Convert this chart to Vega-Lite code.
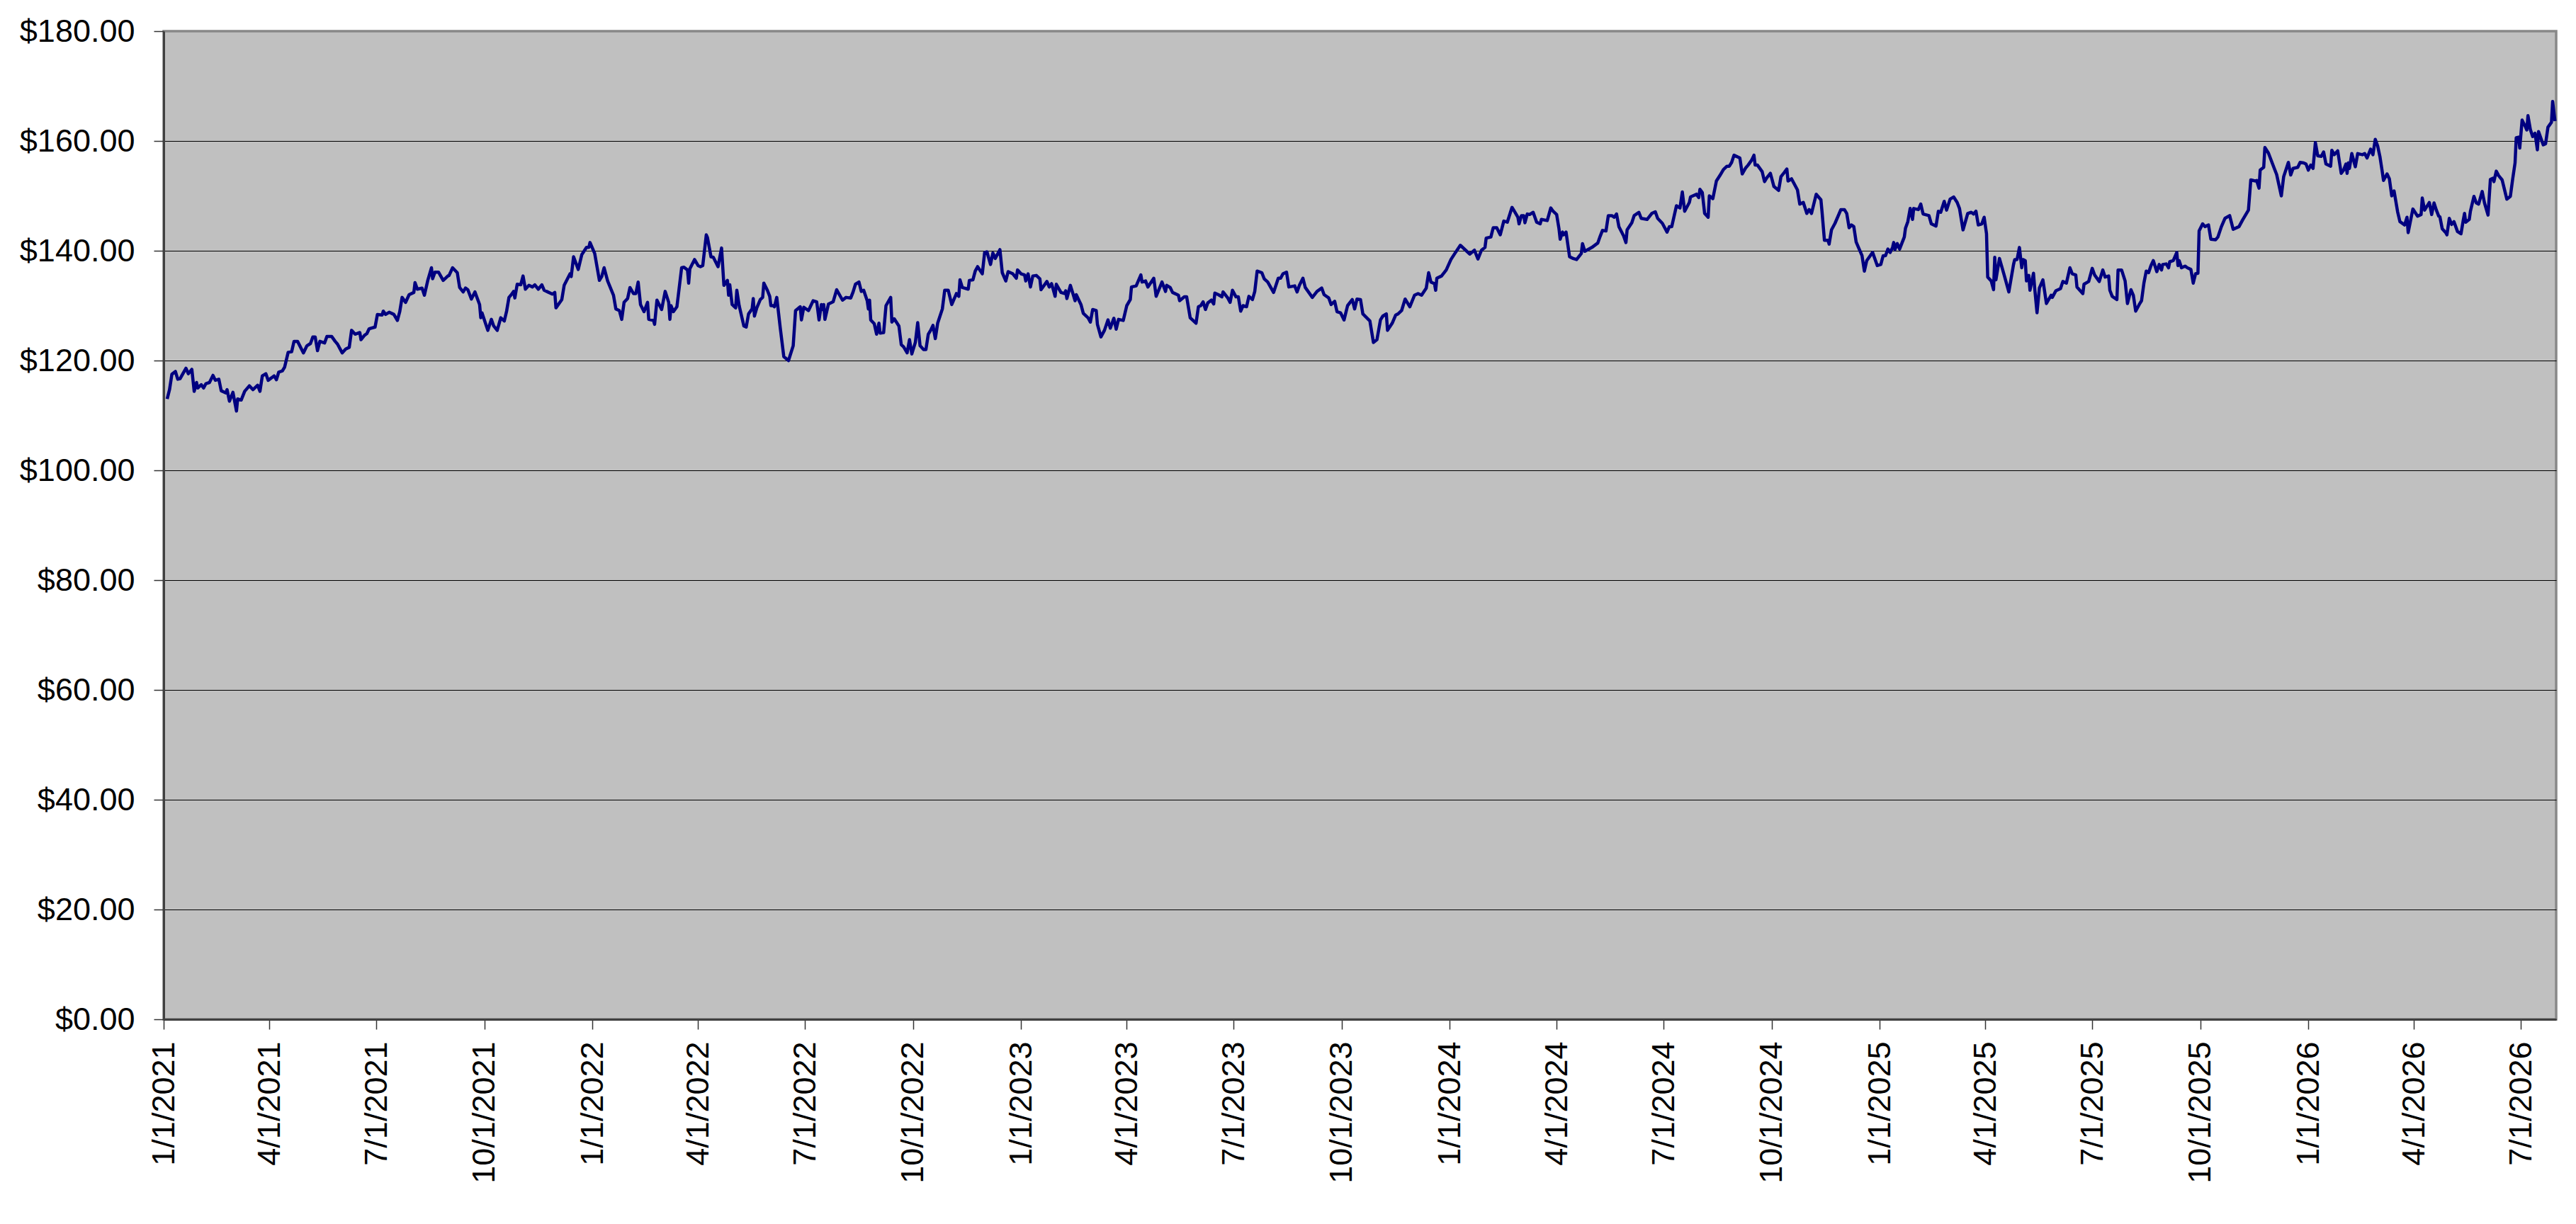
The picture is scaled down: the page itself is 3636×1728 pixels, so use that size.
{
  "$schema": "https://vega.github.io/schema/vega-lite/v6.json",
  "width": 3377,
  "height": 1395,
  "autosize": {"type": "none"},
  "padding": {"left": 231, "top": 44, "right": 28, "bottom": 289},
  "background": "#FFFFFF",
  "config": {
    "view": {"fill": "#C0C0C0", "stroke": "#888888", "strokeWidth": 3.5},
    "axis": {"labelFont": "Liberation Sans", "labelFontSize": 45, "labelColor": "#000000", "labelLimit": 0, "title": null, "domain": true, "domainColor": "#404040", "domainWidth": 3, "tickSize": 14, "tickColor": "#333333", "tickWidth": 1.5}
  },
  "data": {"values": [
    {"date":"2021-01-04","price":113.0},{"date":"2021-01-06","price":114.7},{"date":"2021-01-08","price":117.5},{"date":"2021-01-11","price":118.0},{"date":"2021-01-13","price":116.6},{"date":"2021-01-15","price":116.7},{"date":"2021-01-20","price":118.6},{"date":"2021-01-22","price":117.6},{"date":"2021-01-25","price":118.4},{"date":"2021-01-27","price":114.4},{"date":"2021-01-29","price":116.0},{"date":"2021-01-30","price":115.0},
    {"date":"2021-02-02","price":115.6},{"date":"2021-02-04","price":115.0},{"date":"2021-02-06","price":115.8},{"date":"2021-02-09","price":116.0},{"date":"2021-02-12","price":117.3},{"date":"2021-02-14","price":116.4},{"date":"2021-02-17","price":116.6},{"date":"2021-02-19","price":114.5},{"date":"2021-02-23","price":114.1},{"date":"2021-02-24","price":114.7},{"date":"2021-02-26","price":112.6},
    {"date":"2021-03-01","price":114.2},{"date":"2021-03-04","price":110.8},{"date":"2021-03-05","price":113.0},{"date":"2021-03-08","price":112.8},{"date":"2021-03-11","price":114.4},{"date":"2021-03-15","price":115.4},{"date":"2021-03-18","price":114.7},{"date":"2021-03-22","price":115.5},{"date":"2021-03-24","price":114.4},{"date":"2021-03-26","price":117.2},{"date":"2021-03-29","price":117.6},{"date":"2021-03-31","price":116.4},
    {"date":"2021-04-05","price":117.2},{"date":"2021-04-07","price":116.5},{"date":"2021-04-09","price":117.9},{"date":"2021-04-12","price":118.1},{"date":"2021-04-14","price":118.8},{"date":"2021-04-17","price":121.5},{"date":"2021-04-20","price":121.6},{"date":"2021-04-22","price":123.5},{"date":"2021-04-25","price":123.5},{"date":"2021-04-30","price":121.4},
    {"date":"2021-05-03","price":122.7},{"date":"2021-05-06","price":123.1},{"date":"2021-05-08","price":124.3},{"date":"2021-05-10","price":124.3},{"date":"2021-05-12","price":121.8},{"date":"2021-05-14","price":123.5},{"date":"2021-05-18","price":123.2},{"date":"2021-05-20","price":124.4},{"date":"2021-05-24","price":124.4},{"date":"2021-05-27","price":123.5},{"date":"2021-05-29","price":123.0},
    {"date":"2021-06-02","price":121.4},{"date":"2021-06-05","price":122.1},{"date":"2021-06-08","price":122.4},{"date":"2021-06-10","price":125.5},{"date":"2021-06-13","price":124.8},{"date":"2021-06-17","price":125.1},{"date":"2021-06-18","price":123.8},{"date":"2021-06-21","price":124.6},{"date":"2021-06-23","price":124.9},{"date":"2021-06-25","price":125.8},{"date":"2021-06-30","price":126.1},
    {"date":"2021-07-02","price":128.4},{"date":"2021-07-06","price":128.3},{"date":"2021-07-07","price":129.0},{"date":"2021-07-09","price":128.4},{"date":"2021-07-12","price":128.8},{"date":"2021-07-16","price":128.4},{"date":"2021-07-19","price":127.3},{"date":"2021-07-21","price":128.9},{"date":"2021-07-23","price":131.5},{"date":"2021-07-26","price":130.6},{"date":"2021-07-29","price":132.0},
    {"date":"2021-08-02","price":132.4},{"date":"2021-08-03","price":134.2},{"date":"2021-08-05","price":133.0},{"date":"2021-08-09","price":133.2},{"date":"2021-08-11","price":131.9},{"date":"2021-08-14","price":134.7},{"date":"2021-08-17","price":136.9},{"date":"2021-08-18","price":134.9},{"date":"2021-08-20","price":136.1},{"date":"2021-08-23","price":136.1},{"date":"2021-08-27","price":134.6},{"date":"2021-08-31","price":135.4},
    {"date":"2021-09-01","price":135.5},{"date":"2021-09-04","price":136.9},{"date":"2021-09-08","price":136.0},{"date":"2021-09-10","price":133.3},{"date":"2021-09-13","price":132.5},{"date":"2021-09-15","price":133.2},{"date":"2021-09-17","price":132.9},{"date":"2021-09-20","price":131.2},{"date":"2021-09-23","price":132.5},{"date":"2021-09-27","price":130.2},{"date":"2021-09-28","price":127.8},{"date":"2021-09-29","price":128.7},
    {"date":"2021-10-04","price":125.5},{"date":"2021-10-07","price":127.5},{"date":"2021-10-09","price":126.3},{"date":"2021-10-12","price":125.5},{"date":"2021-10-15","price":127.8},{"date":"2021-10-18","price":127.2},{"date":"2021-10-20","price":129.0},{"date":"2021-10-22","price":131.5},{"date":"2021-10-24","price":132.0},{"date":"2021-10-26","price":132.6},{"date":"2021-10-27","price":131.4},{"date":"2021-10-29","price":133.9},
    {"date":"2021-11-01","price":133.8},{"date":"2021-11-03","price":135.4},{"date":"2021-11-05","price":133.0},{"date":"2021-11-08","price":133.7},{"date":"2021-11-11","price":133.4},{"date":"2021-11-13","price":133.8},{"date":"2021-11-16","price":133.0},{"date":"2021-11-19","price":133.8},{"date":"2021-11-21","price":132.8},{"date":"2021-11-24","price":132.5},{"date":"2021-11-28","price":132.1},{"date":"2021-11-30","price":132.4},
    {"date":"2021-12-01","price":129.6},{"date":"2021-12-06","price":131.1},{"date":"2021-12-08","price":133.7},{"date":"2021-12-13","price":135.8},{"date":"2021-12-14","price":135.3},{"date":"2021-12-16","price":138.9},{"date":"2021-12-20","price":136.6},{"date":"2021-12-23","price":139.3},{"date":"2021-12-27","price":140.6},{"date":"2021-12-29","price":140.6},{"date":"2021-12-30","price":141.5},
    {"date":"2022-01-03","price":139.5},{"date":"2022-01-07","price":134.6},{"date":"2022-01-09","price":135.3},{"date":"2022-01-11","price":136.9},{"date":"2022-01-14","price":134.5},{"date":"2022-01-19","price":131.9},{"date":"2022-01-21","price":129.4},{"date":"2022-01-24","price":129.1},{"date":"2022-01-26","price":127.5},{"date":"2022-01-28","price":130.6},{"date":"2022-01-31","price":131.3},
    {"date":"2022-02-02","price":133.3},{"date":"2022-02-05","price":132.2},{"date":"2022-02-07","price":132.2},{"date":"2022-02-09","price":134.3},{"date":"2022-02-11","price":130.2},{"date":"2022-02-14","price":128.9},{"date":"2022-02-17","price":130.6},{"date":"2022-02-18","price":127.5},{"date":"2022-02-22","price":127.3},{"date":"2022-02-23","price":126.6},{"date":"2022-02-25","price":131.0},
    {"date":"2022-03-01","price":129.3},{"date":"2022-03-04","price":132.6},{"date":"2022-03-07","price":130.6},{"date":"2022-03-08","price":127.5},{"date":"2022-03-09","price":130.0},{"date":"2022-03-11","price":128.9},{"date":"2022-03-14","price":129.8},{"date":"2022-03-18","price":136.9},{"date":"2022-03-20","price":137.0},{"date":"2022-03-23","price":136.5},{"date":"2022-03-24","price":134.1},{"date":"2022-03-25","price":136.7},{"date":"2022-03-29","price":138.4},
    {"date":"2022-04-01","price":137.3},{"date":"2022-04-03","price":137.1},{"date":"2022-04-05","price":137.3},{"date":"2022-04-08","price":142.9},{"date":"2022-04-09","price":142.4},{"date":"2022-04-12","price":138.9},{"date":"2022-04-14","price":138.8},{"date":"2022-04-18","price":137.1},{"date":"2022-04-21","price":140.5},{"date":"2022-04-23","price":133.7},{"date":"2022-04-26","price":134.6},{"date":"2022-04-27","price":131.9},{"date":"2022-04-28","price":133.8},{"date":"2022-04-30","price":130.2},
    {"date":"2022-05-03","price":129.6},{"date":"2022-05-04","price":132.8},{"date":"2022-05-06","price":130.0},{"date":"2022-05-10","price":126.3},{"date":"2022-05-12","price":126.1},{"date":"2022-05-14","price":128.5},{"date":"2022-05-17","price":129.4},{"date":"2022-05-18","price":131.3},{"date":"2022-05-19","price":128.1},{"date":"2022-05-21","price":129.6},{"date":"2022-05-24","price":131.1},{"date":"2022-05-26","price":131.5},{"date":"2022-05-27","price":134.1},{"date":"2022-05-30","price":132.8},
    {"date":"2022-06-01","price":131.7},{"date":"2022-06-02","price":130.0},{"date":"2022-06-04","price":130.0},{"date":"2022-06-05","price":129.8},{"date":"2022-06-07","price":131.5},{"date":"2022-06-10","price":125.9},{"date":"2022-06-13","price":120.7},{"date":"2022-06-17","price":120.0},{"date":"2022-06-21","price":122.7},{"date":"2022-06-23","price":129.1},{"date":"2022-06-27","price":129.8},{"date":"2022-06-28","price":127.4},{"date":"2022-06-30","price":129.7},
    {"date":"2022-07-04","price":129.1},{"date":"2022-07-08","price":130.9},{"date":"2022-07-11","price":130.7},{"date":"2022-07-13","price":127.4},{"date":"2022-07-15","price":130.2},{"date":"2022-07-16","price":129.3},{"date":"2022-07-17","price":130.2},{"date":"2022-07-18","price":127.5},{"date":"2022-07-21","price":130.3},{"date":"2022-07-25","price":130.7},{"date":"2022-07-28","price":132.9},
    {"date":"2022-08-02","price":131.0},{"date":"2022-08-05","price":131.5},{"date":"2022-08-09","price":131.4},{"date":"2022-08-11","price":132.5},{"date":"2022-08-13","price":133.9},{"date":"2022-08-16","price":134.3},{"date":"2022-08-18","price":132.6},{"date":"2022-08-20","price":132.8},{"date":"2022-08-23","price":130.9},{"date":"2022-08-24","price":129.4},{"date":"2022-08-25","price":131.0},{"date":"2022-08-26","price":127.4},{"date":"2022-08-29","price":126.7},{"date":"2022-08-31","price":124.8},
    {"date":"2022-09-02","price":126.8},{"date":"2022-09-03","price":125.0},{"date":"2022-09-06","price":125.1},{"date":"2022-09-08","price":130.0},{"date":"2022-09-12","price":131.5},{"date":"2022-09-13","price":127.0},{"date":"2022-09-15","price":127.6},{"date":"2022-09-19","price":126.3},{"date":"2022-09-21","price":122.9},{"date":"2022-09-23","price":122.5},{"date":"2022-09-26","price":121.4},{"date":"2022-09-28","price":123.8},{"date":"2022-09-30","price":121.2},
    {"date":"2022-10-03","price":123.3},{"date":"2022-10-05","price":126.9},{"date":"2022-10-07","price":122.7},{"date":"2022-10-10","price":122.0},{"date":"2022-10-12","price":122.0},{"date":"2022-10-14","price":124.8},{"date":"2022-10-16","price":125.5},{"date":"2022-10-18","price":126.4},{"date":"2022-10-20","price":124.0},{"date":"2022-10-22","price":126.8},{"date":"2022-10-26","price":129.4},{"date":"2022-10-28","price":132.8},{"date":"2022-10-31","price":132.8},
    {"date":"2022-11-03","price":130.2},{"date":"2022-11-07","price":132.2},{"date":"2022-11-09","price":131.7},{"date":"2022-11-10","price":134.7},{"date":"2022-11-12","price":133.3},{"date":"2022-11-17","price":133.0},{"date":"2022-11-18","price":134.6},{"date":"2022-11-21","price":134.7},{"date":"2022-11-23","price":136.3},{"date":"2022-11-25","price":137.1},{"date":"2022-11-29","price":135.8},
    {"date":"2022-12-01","price":139.7},{"date":"2022-12-03","price":139.8},{"date":"2022-12-06","price":137.5},{"date":"2022-12-08","price":139.6},{"date":"2022-12-10","price":138.6},{"date":"2022-12-14","price":140.2},{"date":"2022-12-16","price":136.0},{"date":"2022-12-19","price":134.5},{"date":"2022-12-21","price":136.2},{"date":"2022-12-25","price":135.8},{"date":"2022-12-28","price":135.0},{"date":"2022-12-29","price":136.5},
    {"date":"2023-01-01","price":135.8},{"date":"2023-01-04","price":135.6},{"date":"2023-01-05","price":134.5},{"date":"2023-01-07","price":135.8},{"date":"2023-01-09","price":133.4},{"date":"2023-01-11","price":135.4},{"date":"2023-01-14","price":135.5},{"date":"2023-01-17","price":134.9},{"date":"2023-01-18","price":132.9},{"date":"2023-01-23","price":134.4},{"date":"2023-01-25","price":133.4},{"date":"2023-01-27","price":134.0},{"date":"2023-01-30","price":131.7},{"date":"2023-01-31","price":133.9},
    {"date":"2023-02-04","price":132.4},{"date":"2023-02-07","price":132.2},{"date":"2023-02-08","price":132.7},{"date":"2023-02-09","price":131.3},{"date":"2023-02-12","price":133.7},{"date":"2023-02-16","price":130.9},{"date":"2023-02-17","price":132.0},{"date":"2023-02-21","price":130.2},{"date":"2023-02-23","price":128.6},{"date":"2023-02-27","price":127.8},
    {"date":"2023-03-01","price":127.0},{"date":"2023-03-03","price":129.3},{"date":"2023-03-06","price":129.1},{"date":"2023-03-07","price":126.6},{"date":"2023-03-10","price":124.3},{"date":"2023-03-13","price":125.5},{"date":"2023-03-16","price":127.4},{"date":"2023-03-18","price":125.9},{"date":"2023-03-21","price":127.7},{"date":"2023-03-23","price":125.7},{"date":"2023-03-25","price":127.5},{"date":"2023-03-29","price":127.3},
    {"date":"2023-04-01","price":130.0},{"date":"2023-04-04","price":131.1},{"date":"2023-04-05","price":133.4},{"date":"2023-04-09","price":133.6},{"date":"2023-04-13","price":135.6},{"date":"2023-04-14","price":134.3},{"date":"2023-04-17","price":134.5},{"date":"2023-04-19","price":133.4},{"date":"2023-04-24","price":135.0},{"date":"2023-04-26","price":131.7},
    {"date":"2023-05-01","price":134.3},{"date":"2023-05-04","price":132.6},{"date":"2023-05-05","price":133.7},{"date":"2023-05-08","price":133.3},{"date":"2023-05-10","price":132.4},{"date":"2023-05-15","price":131.9},{"date":"2023-05-16","price":130.9},{"date":"2023-05-20","price":131.6},{"date":"2023-05-22","price":131.6},{"date":"2023-05-25","price":127.8},{"date":"2023-05-30","price":126.8},
    {"date":"2023-06-01","price":129.8},{"date":"2023-06-03","price":130.0},{"date":"2023-06-05","price":130.7},{"date":"2023-06-07","price":129.3},{"date":"2023-06-09","price":130.5},{"date":"2023-06-12","price":131.0},{"date":"2023-06-14","price":130.3},{"date":"2023-06-15","price":132.3},{"date":"2023-06-18","price":132.0},{"date":"2023-06-21","price":131.6},{"date":"2023-06-22","price":132.5},{"date":"2023-06-26","price":131.4},{"date":"2023-06-28","price":130.6},{"date":"2023-06-30","price":132.8},
    {"date":"2023-07-03","price":131.6},{"date":"2023-07-05","price":131.6},{"date":"2023-07-07","price":129.0},{"date":"2023-07-09","price":130.0},{"date":"2023-07-12","price":129.8},{"date":"2023-07-14","price":131.7},{"date":"2023-07-17","price":131.1},{"date":"2023-07-19","price":132.6},{"date":"2023-07-21","price":136.3},{"date":"2023-07-25","price":136.0},{"date":"2023-07-27","price":134.9},{"date":"2023-07-30","price":134.3},
    {"date":"2023-08-04","price":132.4},{"date":"2023-08-08","price":135.0},{"date":"2023-08-10","price":135.0},{"date":"2023-08-12","price":135.8},{"date":"2023-08-15","price":136.1},{"date":"2023-08-17","price":133.4},{"date":"2023-08-22","price":133.6},{"date":"2023-08-24","price":132.5},{"date":"2023-08-26","price":133.7},{"date":"2023-08-29","price":135.0},{"date":"2023-08-31","price":133.3},
    {"date":"2023-09-06","price":131.5},{"date":"2023-09-10","price":132.6},{"date":"2023-09-14","price":133.2},{"date":"2023-09-16","price":132.0},{"date":"2023-09-20","price":131.4},{"date":"2023-09-22","price":130.2},{"date":"2023-09-25","price":130.8},{"date":"2023-09-27","price":128.9},{"date":"2023-09-30","price":128.7},
    {"date":"2023-10-03","price":127.4},{"date":"2023-10-06","price":130.0},{"date":"2023-10-10","price":131.1},{"date":"2023-10-12","price":129.4},{"date":"2023-10-14","price":131.2},{"date":"2023-10-17","price":131.1},{"date":"2023-10-19","price":128.5},{"date":"2023-10-25","price":127.2},{"date":"2023-10-28","price":123.3},{"date":"2023-10-31","price":123.8},
    {"date":"2023-11-03","price":127.4},{"date":"2023-11-05","price":128.1},{"date":"2023-11-08","price":128.5},{"date":"2023-11-09","price":125.5},{"date":"2023-11-13","price":126.8},{"date":"2023-11-16","price":128.3},{"date":"2023-11-18","price":128.5},{"date":"2023-11-21","price":129.1},{"date":"2023-11-24","price":131.2},{"date":"2023-11-28","price":129.8},
    {"date":"2023-12-02","price":131.9},{"date":"2023-12-05","price":132.2},{"date":"2023-12-08","price":131.9},{"date":"2023-12-12","price":133.2},{"date":"2023-12-14","price":136.0},{"date":"2023-12-16","price":134.3},{"date":"2023-12-19","price":134.0},{"date":"2023-12-20","price":132.8},{"date":"2023-12-21","price":135.0},{"date":"2023-12-25","price":135.4},{"date":"2023-12-29","price":136.5},
    {"date":"2024-01-02","price":138.4},{"date":"2024-01-05","price":139.4},{"date":"2024-01-10","price":141.0},{"date":"2024-01-18","price":139.4},{"date":"2024-01-22","price":140.1},{"date":"2024-01-25","price":138.5},{"date":"2024-01-28","price":140.1},{"date":"2024-01-31","price":140.6},
    {"date":"2024-02-01","price":142.3},{"date":"2024-02-05","price":142.5},{"date":"2024-02-07","price":144.2},{"date":"2024-02-10","price":144.2},{"date":"2024-02-13","price":142.9},{"date":"2024-02-16","price":145.4},{"date":"2024-02-19","price":145.2},{"date":"2024-02-23","price":147.9},{"date":"2024-02-25","price":147.2},{"date":"2024-02-28","price":146.1},{"date":"2024-02-29","price":144.9},
    {"date":"2024-03-02","price":146.4},{"date":"2024-03-04","price":146.4},{"date":"2024-03-05","price":145.1},{"date":"2024-03-07","price":146.7},{"date":"2024-03-09","price":146.6},{"date":"2024-03-12","price":147.0},{"date":"2024-03-15","price":145.2},{"date":"2024-03-18","price":144.9},{"date":"2024-03-19","price":145.7},{"date":"2024-03-24","price":145.5},{"date":"2024-03-27","price":147.8},{"date":"2024-03-29","price":147.2},
    {"date":"2024-04-01","price":146.6},{"date":"2024-04-03","price":144.0},{"date":"2024-04-04","price":142.1},{"date":"2024-04-06","price":143.4},{"date":"2024-04-07","price":142.9},{"date":"2024-04-09","price":143.4},{"date":"2024-04-12","price":138.9},{"date":"2024-04-15","price":138.6},{"date":"2024-04-18","price":138.4},{"date":"2024-04-22","price":139.5},{"date":"2024-04-23","price":141.3},{"date":"2024-04-25","price":139.9},
    {"date":"2024-05-01","price":140.6},{"date":"2024-05-06","price":141.4},{"date":"2024-05-08","price":142.6},{"date":"2024-05-10","price":143.7},{"date":"2024-05-13","price":143.6},{"date":"2024-05-15","price":146.4},{"date":"2024-05-18","price":146.4},{"date":"2024-05-20","price":146.1},{"date":"2024-05-22","price":146.7},{"date":"2024-05-24","price":144.4},{"date":"2024-05-28","price":142.7},{"date":"2024-05-30","price":141.5},{"date":"2024-05-31","price":143.8},
    {"date":"2024-06-04","price":145.1},{"date":"2024-06-06","price":146.4},{"date":"2024-06-10","price":147.0},{"date":"2024-06-12","price":145.9},{"date":"2024-06-17","price":145.7},{"date":"2024-06-21","price":146.8},{"date":"2024-06-24","price":147.1},{"date":"2024-06-26","price":145.9},{"date":"2024-06-30","price":145.0},
    {"date":"2024-07-04","price":143.4},{"date":"2024-07-06","price":144.4},{"date":"2024-07-08","price":144.4},{"date":"2024-07-12","price":148.2},{"date":"2024-07-15","price":147.8},{"date":"2024-07-17","price":150.7},{"date":"2024-07-19","price":147.2},{"date":"2024-07-23","price":148.8},{"date":"2024-07-24","price":149.8},{"date":"2024-07-26","price":150.0},{"date":"2024-07-29","price":150.3},{"date":"2024-07-31","price":149.7},
    {"date":"2024-08-01","price":151.2},{"date":"2024-08-03","price":150.6},{"date":"2024-08-05","price":146.8},{"date":"2024-08-08","price":146.1},{"date":"2024-08-09","price":150.0},{"date":"2024-08-12","price":149.5},{"date":"2024-08-15","price":152.7},{"date":"2024-08-18","price":153.7},{"date":"2024-08-21","price":154.8},{"date":"2024-08-24","price":155.4},{"date":"2024-08-26","price":155.4},{"date":"2024-08-28","price":156.1},{"date":"2024-08-30","price":157.4},
    {"date":"2024-09-04","price":156.9},{"date":"2024-09-06","price":154.0},{"date":"2024-09-09","price":155.1},{"date":"2024-09-11","price":155.6},{"date":"2024-09-14","price":156.5},{"date":"2024-09-16","price":157.4},{"date":"2024-09-17","price":155.6},{"date":"2024-09-19","price":155.6},{"date":"2024-09-23","price":154.4},{"date":"2024-09-25","price":152.6},{"date":"2024-09-27","price":153.3},{"date":"2024-09-30","price":154.1},
    {"date":"2024-10-03","price":151.7},{"date":"2024-10-07","price":151.0},{"date":"2024-10-09","price":153.5},{"date":"2024-10-12","price":154.3},{"date":"2024-10-14","price":154.9},{"date":"2024-10-15","price":152.7},{"date":"2024-10-18","price":153.1},{"date":"2024-10-23","price":151.1},{"date":"2024-10-25","price":148.5},{"date":"2024-10-28","price":148.8},{"date":"2024-10-31","price":146.8},
    {"date":"2024-11-02","price":147.5},{"date":"2024-11-04","price":146.8},{"date":"2024-11-08","price":150.3},{"date":"2024-11-12","price":149.3},{"date":"2024-11-13","price":147.0},{"date":"2024-11-15","price":141.9},{"date":"2024-11-18","price":141.9},{"date":"2024-11-19","price":141.2},{"date":"2024-11-21","price":143.8},{"date":"2024-11-24","price":145.0},{"date":"2024-11-29","price":147.5},
    {"date":"2024-12-02","price":147.5},{"date":"2024-12-04","price":146.8},{"date":"2024-12-06","price":144.2},{"date":"2024-12-08","price":144.7},{"date":"2024-12-10","price":144.4},{"date":"2024-12-12","price":141.6},{"date":"2024-12-14","price":140.6},{"date":"2024-12-17","price":139.1},{"date":"2024-12-19","price":136.3},{"date":"2024-12-21","price":138.2},{"date":"2024-12-26","price":139.7},{"date":"2024-12-30","price":137.3},
    {"date":"2025-01-02","price":137.5},{"date":"2025-01-04","price":139.1},{"date":"2025-01-06","price":139.1},{"date":"2025-01-08","price":140.3},{"date":"2025-01-10","price":139.7},{"date":"2025-01-12","price":140.6},{"date":"2025-01-13","price":141.5},{"date":"2025-01-14","price":140.2},{"date":"2025-01-16","price":141.3},{"date":"2025-01-18","price":140.3},{"date":"2025-01-22","price":142.5},{"date":"2025-01-23","price":144.1},{"date":"2025-01-25","price":145.3},{"date":"2025-01-27","price":147.7},{"date":"2025-01-29","price":145.7},{"date":"2025-01-30","price":147.7},
    {"date":"2025-02-03","price":147.5},{"date":"2025-02-05","price":148.5},{"date":"2025-02-07","price":146.7},{"date":"2025-02-12","price":146.4},{"date":"2025-02-14","price":144.9},{"date":"2025-02-18","price":144.5},{"date":"2025-02-20","price":147.2},{"date":"2025-02-22","price":147.0},{"date":"2025-02-25","price":149.0},{"date":"2025-02-27","price":147.4},
    {"date":"2025-03-02","price":149.4},{"date":"2025-03-05","price":149.8},{"date":"2025-03-08","price":148.8},{"date":"2025-03-10","price":147.7},{"date":"2025-03-13","price":143.8},{"date":"2025-03-17","price":146.8},{"date":"2025-03-20","price":147.0},{"date":"2025-03-22","price":146.7},{"date":"2025-03-24","price":147.2},{"date":"2025-03-26","price":144.7},{"date":"2025-03-29","price":144.9},{"date":"2025-03-31","price":146.1},
    {"date":"2025-04-02","price":143.1},{"date":"2025-04-03","price":135.2},{"date":"2025-04-06","price":134.5},{"date":"2025-04-08","price":132.9},{"date":"2025-04-09","price":138.8},{"date":"2025-04-10","price":134.7},{"date":"2025-04-13","price":138.6},{"date":"2025-04-17","price":135.6},{"date":"2025-04-21","price":132.5},{"date":"2025-04-25","price":137.5},{"date":"2025-04-26","price":138.4},{"date":"2025-04-28","price":138.4},{"date":"2025-04-30","price":140.6},
    {"date":"2025-05-02","price":136.9},{"date":"2025-05-03","price":138.4},{"date":"2025-05-05","price":138.2},{"date":"2025-05-06","price":134.5},{"date":"2025-05-08","price":135.5},{"date":"2025-05-09","price":132.8},{"date":"2025-05-12","price":135.9},{"date":"2025-05-13","price":133.2},{"date":"2025-05-15","price":128.7},{"date":"2025-05-17","price":133.2},{"date":"2025-05-20","price":134.7},{"date":"2025-05-23","price":130.4},{"date":"2025-05-27","price":131.9},{"date":"2025-05-28","price":131.5},{"date":"2025-05-31","price":132.7},
    {"date":"2025-06-04","price":133.1},{"date":"2025-06-06","price":134.4},{"date":"2025-06-09","price":134.1},{"date":"2025-06-12","price":136.9},{"date":"2025-06-14","price":135.8},{"date":"2025-06-17","price":135.6},{"date":"2025-06-18","price":133.4},{"date":"2025-06-23","price":132.2},{"date":"2025-06-24","price":133.9},{"date":"2025-06-28","price":134.4},
    {"date":"2025-07-01","price":136.8},{"date":"2025-07-03","price":135.6},{"date":"2025-07-07","price":134.4},{"date":"2025-07-10","price":136.5},{"date":"2025-07-12","price":135.2},{"date":"2025-07-15","price":135.4},{"date":"2025-07-16","price":132.8},{"date":"2025-07-18","price":131.7},{"date":"2025-07-22","price":131.1},{"date":"2025-07-23","price":136.5},{"date":"2025-07-26","price":136.5},{"date":"2025-07-29","price":134.5},{"date":"2025-07-31","price":130.4},
    {"date":"2025-08-03","price":132.9},{"date":"2025-08-05","price":131.9},{"date":"2025-08-07","price":129.0},{"date":"2025-08-10","price":130.2},{"date":"2025-08-12","price":130.9},{"date":"2025-08-14","price":134.1},{"date":"2025-08-16","price":136.3},{"date":"2025-08-18","price":136.0},{"date":"2025-08-20","price":137.3},{"date":"2025-08-22","price":138.2},{"date":"2025-08-25","price":136.2},{"date":"2025-08-27","price":137.5},{"date":"2025-08-29","price":136.5},{"date":"2025-08-30","price":137.5},
    {"date":"2025-09-02","price":137.6},{"date":"2025-09-04","price":136.9},{"date":"2025-09-05","price":138.0},{"date":"2025-09-08","price":138.2},{"date":"2025-09-11","price":139.7},{"date":"2025-09-12","price":137.3},{"date":"2025-09-13","price":138.2},{"date":"2025-09-15","price":136.9},{"date":"2025-09-18","price":137.2},{"date":"2025-09-20","price":136.9},{"date":"2025-09-23","price":136.6},{"date":"2025-09-25","price":134.1},{"date":"2025-09-27","price":135.8},{"date":"2025-09-29","price":135.9},{"date":"2025-09-30","price":143.6},
    {"date":"2025-10-03","price":144.9},{"date":"2025-10-05","price":144.4},{"date":"2025-10-08","price":144.7},{"date":"2025-10-10","price":142.1},{"date":"2025-10-14","price":142.0},{"date":"2025-10-16","price":142.5},{"date":"2025-10-19","price":144.4},{"date":"2025-10-22","price":145.9},{"date":"2025-10-26","price":146.4},{"date":"2025-10-29","price":143.9},
    {"date":"2025-11-03","price":144.4},{"date":"2025-11-06","price":145.6},{"date":"2025-11-11","price":147.4},{"date":"2025-11-13","price":152.9},{"date":"2025-11-15","price":152.8},{"date":"2025-11-17","price":152.7},{"date":"2025-11-18","price":152.8},{"date":"2025-11-20","price":151.4},{"date":"2025-11-21","price":154.7},{"date":"2025-11-24","price":155.2},{"date":"2025-11-25","price":158.8},{"date":"2025-11-28","price":157.8},
    {"date":"2025-12-03","price":155.0},{"date":"2025-12-05","price":153.9},{"date":"2025-12-09","price":150.0},{"date":"2025-12-11","price":153.5},{"date":"2025-12-15","price":156.1},{"date":"2025-12-17","price":153.8},{"date":"2025-12-19","price":155.0},{"date":"2025-12-23","price":155.2},{"date":"2025-12-25","price":156.1},{"date":"2025-12-28","price":156.0},{"date":"2025-12-30","price":155.8},
    {"date":"2026-01-01","price":154.7},{"date":"2026-01-03","price":155.6},{"date":"2026-01-05","price":155.0},{"date":"2026-01-07","price":159.7},{"date":"2026-01-09","price":157.3},{"date":"2026-01-12","price":157.2},{"date":"2026-01-14","price":158.0},{"date":"2026-01-16","price":155.8},{"date":"2026-01-20","price":155.4},{"date":"2026-01-21","price":158.3},{"date":"2026-01-23","price":157.5},{"date":"2026-01-26","price":158.2},{"date":"2026-01-29","price":154.1},{"date":"2026-01-31","price":154.7},
    {"date":"2026-02-02","price":155.8},{"date":"2026-02-03","price":154.1},{"date":"2026-02-04","price":156.0},{"date":"2026-02-05","price":155.0},{"date":"2026-02-07","price":157.7},{"date":"2026-02-10","price":155.3},{"date":"2026-02-12","price":157.7},{"date":"2026-02-16","price":157.5},{"date":"2026-02-18","price":157.7},{"date":"2026-02-20","price":156.9},{"date":"2026-02-23","price":158.5},{"date":"2026-02-25","price":157.5},{"date":"2026-02-27","price":160.3},
    {"date":"2026-03-01","price":159.1},{"date":"2026-03-03","price":157.1},{"date":"2026-03-05","price":154.3},{"date":"2026-03-06","price":152.8},{"date":"2026-03-09","price":154.0},{"date":"2026-03-11","price":153.1},{"date":"2026-03-13","price":150.0},{"date":"2026-03-15","price":150.9},{"date":"2026-03-18","price":147.1},{"date":"2026-03-20","price":145.3},{"date":"2026-03-24","price":144.7},{"date":"2026-03-26","price":146.1},{"date":"2026-03-27","price":143.3},{"date":"2026-03-31","price":147.6},
    {"date":"2026-04-04","price":146.3},{"date":"2026-04-07","price":146.6},{"date":"2026-04-08","price":149.6},{"date":"2026-04-10","price":147.4},{"date":"2026-04-14","price":148.8},{"date":"2026-04-16","price":146.6},{"date":"2026-04-18","price":148.7},{"date":"2026-04-20","price":147.4},{"date":"2026-04-22","price":146.3},{"date":"2026-04-23","price":146.2},{"date":"2026-04-25","price":144.0},{"date":"2026-04-28","price":143.3},{"date":"2026-04-29","price":142.9},
    {"date":"2026-05-01","price":145.9},{"date":"2026-05-03","price":144.8},{"date":"2026-05-05","price":145.3},{"date":"2026-05-08","price":143.5},{"date":"2026-05-11","price":143.1},{"date":"2026-05-13","price":145.7},{"date":"2026-05-14","price":146.8},{"date":"2026-05-15","price":145.2},{"date":"2026-05-18","price":145.7},{"date":"2026-05-19","price":147.2},{"date":"2026-05-22","price":149.9},{"date":"2026-05-24","price":148.7},{"date":"2026-05-26","price":148.5},{"date":"2026-05-29","price":150.8},{"date":"2026-05-31","price":148.7},
    {"date":"2026-06-03","price":146.5},{"date":"2026-06-05","price":153.0},{"date":"2026-06-07","price":153.2},{"date":"2026-06-08","price":152.6},{"date":"2026-06-10","price":154.5},{"date":"2026-06-12","price":153.7},{"date":"2026-06-15","price":152.9},{"date":"2026-06-19","price":149.4},{"date":"2026-06-22","price":149.9},{"date":"2026-06-24","price":153.1},{"date":"2026-06-26","price":156.0},{"date":"2026-06-27","price":160.6},{"date":"2026-06-29","price":160.7},{"date":"2026-06-30","price":158.7},
    {"date":"2026-07-02","price":163.8},{"date":"2026-07-05","price":162.5},{"date":"2026-07-06","price":162.0},{"date":"2026-07-07","price":164.6},{"date":"2026-07-09","price":162.1},{"date":"2026-07-11","price":160.8},{"date":"2026-07-13","price":161.4},{"date":"2026-07-15","price":158.4},{"date":"2026-07-16","price":161.7},{"date":"2026-07-20","price":159.3},{"date":"2026-07-22","price":159.5},{"date":"2026-07-24","price":162.5},{"date":"2026-07-27","price":163.4},{"date":"2026-07-28","price":167.2},{"date":"2026-07-30","price":163.6}
  ]},
  "mark": {"type": "line", "color": "#000080", "strokeWidth": 4.5, "strokeJoin": "round"},
  "encoding": {
    "x": {
      "field": "date",
      "type": "temporal",
      "scale": {"type": "utc", "domain": [{"year": 2021, "month": 1, "date": 1, "utc": true}, {"year": 2026, "month": 7, "date": 31, "utc": true}]},
      "axis": {
        "tickCount": {"interval": "month", "step": 3},
        "format": "%-m/%-d/%Y",
        "labelAngle": -90,
        "labelPadding": 17,
        "labelOverlap": false,
        "labelFlush": false,
        "grid": false
      }
    },
    "y": {
      "field": "price",
      "type": "quantitative",
      "scale": {"domain": [0, 180], "nice": false, "zero": true},
      "axis": {
        "values": [0, 20, 40, 60, 80, 100, 120, 140, 160, 180],
        "format": "$.2f",
        "labelPadding": 27,
        "grid": true,
        "gridColor": {"condition": {"test": "datum.value == 180", "value": "#888888"}, "value": "#000000"},
        "gridWidth": 1.2
      }
    }
  }
}
